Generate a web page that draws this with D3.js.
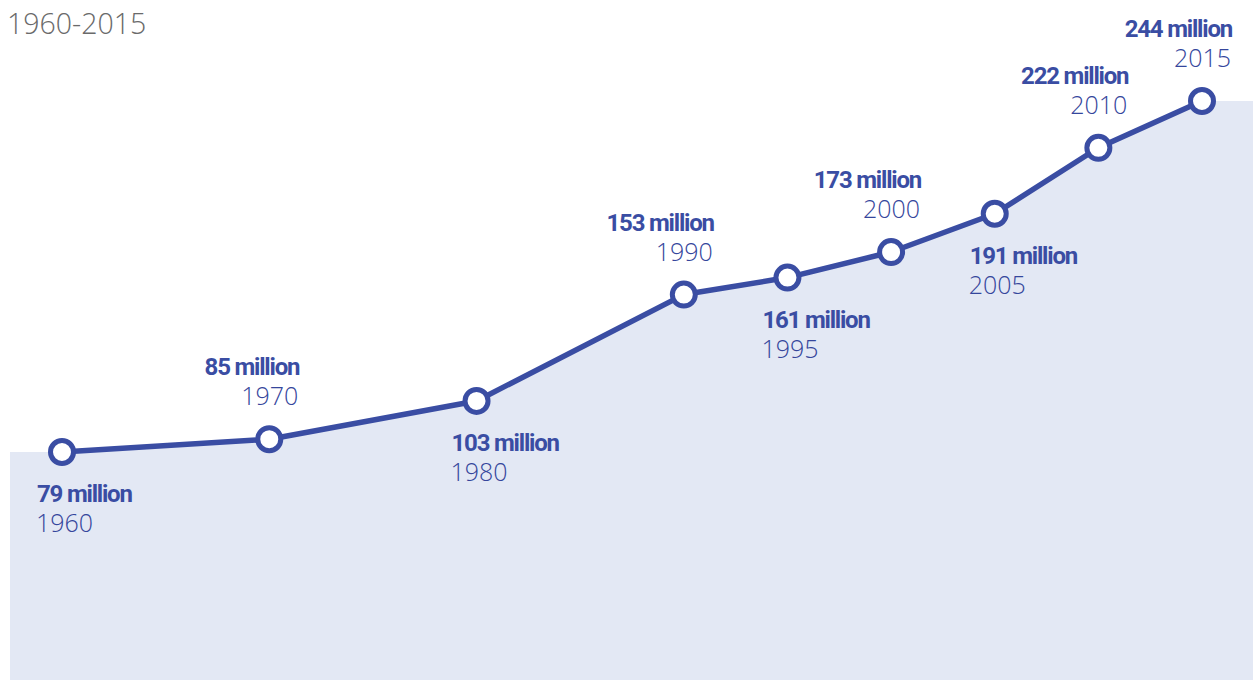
<!DOCTYPE html>
<html><head><meta charset="utf-8">
<script src="https://cdn.jsdelivr.net/npm/d3@7"></script>
<style>body{margin:0;background:#fff;}svg{display:block;}</style>
</head><body>
<svg id="c" width="1253" height="680"></svg>
<script>
const years = [1960, 1970, 1980, 1990, 1995, 2000, 2005, 2010, 2015];
const values = [79, 85, 103, 153, 161, 173, 191, 222, 244];
const valueLabels = ["79 million","85 million","103 million","153 million","161 million","173 million","191 million","222 million","244 million"];
const labelSide = ["below","above","below","above","below","above","below","above","above"];
const title = "1960-2015";

const svg = d3.select("#c");
const W = 1253, H = 680;
const x = d3.scaleLinear().domain([1960, 2015]).range([62, 1202]);
const y = d3.scaleLinear().domain([79, 244]).range([452, 101]);
const data = years.map((yr, i) => ({yr, v: values[i], lab: valueLabels[i], side: labelSide[i]}));

const blue = "#3a4da3";
const areaPts = [{px: 10, py: y(values[0])}].concat(data.map(d => ({px: x(d.yr), py: y(d.v)}))).concat([{px: W, py: y(values[values.length-1])}]);
svg.append("path")
  .datum(areaPts)
  .attr("fill", "#e3e8f4")
  .attr("d", d3.area().x(d => d.px).y0(H).y1(d => d.py));

svg.append("path")
  .datum(data)
  .attr("fill", "none")
  .attr("stroke", blue)
  .attr("stroke-width", 5.5)
  .attr("stroke-linejoin", "round")
  .attr("d", d3.line().x(d => x(d.yr)).y(d => y(d.v)));

svg.selectAll("circle.pt").data(data).join("circle")
  .attr("cx", d => x(d.yr)).attr("cy", d => y(d.v)).attr("r", 11.5)
  .attr("fill", "#fff").attr("stroke", blue).attr("stroke-width", 5);

const g = svg.selectAll("g.lab").data(data).join("g");
g.append("text")
  .attr("x", d => d.side === "above" ? x(d.yr) + 30 : x(d.yr) - 25)
  .attr("y", d => d.side === "above" ? y(d.v) - 64 : y(d.v) + 50)
  .attr("text-anchor", d => d.side === "above" ? "end" : "start")
  .attr("font-family", "Roboto, sans-serif")
  .attr("font-weight", "bold")
  .attr("font-size", 24)
  .attr("letter-spacing", -1.2)
  .attr("fill", blue)
  .text(d => d.lab);
g.append("text")
  .attr("x", d => d.side === "above" ? x(d.yr) + 29 : x(d.yr) - 26)
  .attr("y", d => d.side === "above" ? y(d.v) - 34 : y(d.v) + 80)
  .attr("text-anchor", d => d.side === "above" ? "end" : "start")
  .attr("font-family", "'Open Sans', 'Noto Sans', sans-serif")
  .attr("font-weight", 300)
  .attr("font-size", 25)
  .attr("fill", "#35469c")
  .text(d => d.yr);

svg.append("text").attr("x", 7).attr("y", 34)
  .attr("font-family", "'Open Sans', 'Noto Sans', sans-serif")
  .attr("font-weight", 300)
  .attr("font-size", 28.5).attr("fill", "#6a6a6a")
  .text(title);
</script>
</body></html>
